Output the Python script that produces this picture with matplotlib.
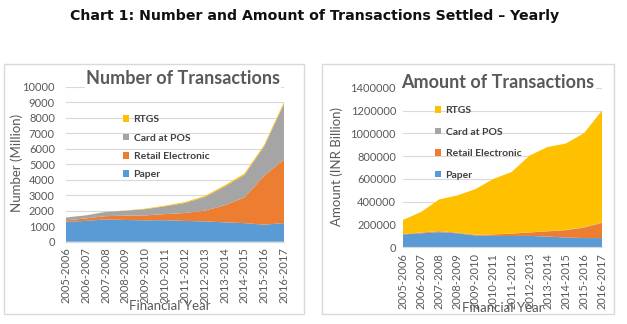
import matplotlib.pyplot as plt
from matplotlib.patches import Rectangle, Patch
from matplotlib.ticker import StrMethodFormatter

years = ['2005-2006', '2006-2007', '2007-2008', '2008-2009', '2009-2010', '2010-2011',
         '2011-2012', '2012-2013', '2013-2014', '2014-2015', '2015-2016', '2016-2017']

# Number of transactions (million)
num_paper = [1290, 1340, 1440, 1400, 1380, 1390, 1340, 1310, 1250, 1200, 1100, 1200]
num_retail = [90, 160, 210, 280, 320, 390, 510, 690, 1100, 1650, 3150, 4100]
num_card = [180, 200, 270, 320, 400, 500, 650, 880, 1200, 1450, 1900, 3600]
num_rtgs = [0.5, 4, 6, 13, 33, 49, 55, 69, 81, 93, 98, 108]

# Amount of transactions (INR billion)
amt_paper = [113000, 123000, 133000, 123000, 104000, 100000, 99000, 100000, 94000, 86000, 81000, 81000]
amt_retail = [4000, 6000, 8000, 5000, 5000, 13000, 21000, 30000, 46000, 64000, 92000, 133000]
amt_card = [500, 600, 800, 1000, 1000, 1300, 1500, 1900, 2300, 2700, 3200, 3300]
amt_rtgs = [122500, 180400, 278200, 326000, 400000, 485700, 538500, 673100, 737700, 757300, 823800, 982700]

series_names = ['Paper', 'Retail Electronic', 'Card at POS', 'RTGS']
colors = ['#5B9BD5', '#ED7D31', '#A5A5A5', '#FFC000']

W, H = 627, 324
fig = plt.figure(figsize=(W / 100, H / 100), dpi=100)
plt.rcParams['font.family'] = ['Lato', 'DejaVu Sans']
txt = '#595959'


def px(x0, y0, x1, y1):
    # pixel box (top-left origin) -> figure fraction rect
    return [x0 / W, 1 - y1 / H, (x1 - x0) / W, (y1 - y0) / H]


fig.text(315 / W, 1 - 16 / H, 'Chart 1: Number and Amount of Transactions Settled \u2013 Yearly',
         ha='center', va='center', fontsize=10.2, fontweight='bold',
         family='DejaVu Sans', color='#111111')

# panel borders
for x0, x1 in [(4, 304), (322, 614)]:
    fig.patches.append(Rectangle((x0 / W, 1 - 314 / H), (x1 - x0) / W, 250 / H,
                                 transform=fig.transFigure, fill=False,
                                 edgecolor='#d9d9d9', linewidth=1))


def draw(rect, series, ymax, ystep, title, title_xy, ylabel, ylabel_xy, xlabel_xy,
         leg_xy, leg_sp, ypad):
    ax = fig.add_axes(px(*rect))
    x = range(len(years))
    ax.stackplot(x, *series, colors=colors, linewidth=0)
    ax.set_xlim(0, len(years) - 1)
    ax.set_ylim(0, ymax)
    ax.set_yticks(range(0, ymax + 1, ystep))
    ax.yaxis.set_major_formatter(StrMethodFormatter('{x:.0f}'))
    ax.set_xticks(list(x))
    ax.set_xticklabels(years, rotation=90)
    ax.tick_params(length=0, labelsize=8, colors=txt, pad=4)
    ax.tick_params(axis='y', pad=ypad)
    ax.grid(axis='y', color='#d9d9d9', linewidth=0.8)
    ax.set_axisbelow(True)
    for s in ['top', 'right', 'left']:
        ax.spines[s].set_visible(False)
    ax.spines['bottom'].set_color('#d9d9d9')
    fig.text(title_xy[0] / W, 1 - title_xy[1] / H, title, ha='center', va='center',
             fontsize=13, fontweight='bold', color=txt,
             bbox=dict(facecolor='white', edgecolor='none', pad=1))
    fig.text(ylabel_xy[0] / W, 1 - ylabel_xy[1] / H, ylabel, ha='center', va='center',
             rotation=90, fontsize=9.5, color=txt)
    fig.text(xlabel_xy[0] / W, 1 - xlabel_xy[1] / H, 'Financial Year', ha='center',
             va='center', fontsize=9.5, color=txt)
    handles = [Patch(facecolor=c, edgecolor='none') for c in colors][::-1]
    ax.legend(handles, series_names[::-1], loc='upper left',
              bbox_to_anchor=(leg_xy[0] / W, 1 - leg_xy[1] / H),
              bbox_transform=fig.transFigure, frameon=False, borderpad=0,
              handlelength=0.6, handleheight=0.6, handletextpad=0.4,
              labelspacing=leg_sp, prop=dict(size=7.5, weight='bold'),
              labelcolor='#404040')
    return ax


draw((66, 86.7, 284, 241.7), [num_paper, num_retail, num_card, num_rtgs], 10000, 1000,
     'Number of Transactions', (183, 79), 'Number (Million)', (17, 163), (170, 306),
     (118, 110), 0.9, 8)
draw((403, 87.7, 602, 247.3), [amt_paper, amt_retail, amt_card, amt_rtgs], 1400000, 200000,
     'Amount of Transactions', (498, 82), 'Amount (INR Billion)', (337, 167), (503, 308),
     (430, 101), 1.2, 5)

fig.savefig('out.png', dpi=100)
